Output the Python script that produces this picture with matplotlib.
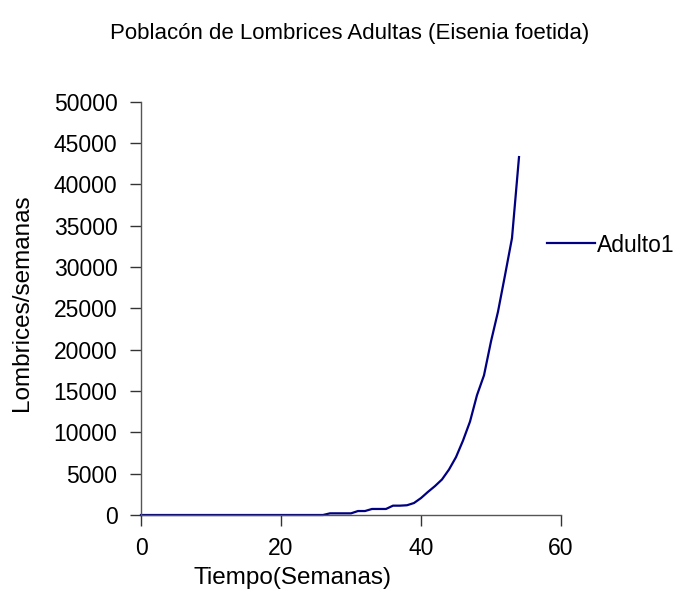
import matplotlib.pyplot as plt

plt.rcParams['font.family'] = ['Liberation Sans', 'DejaVu Sans']

# semanas 0..54
semanas = list(range(55))
adultos = [0] * 27 + [200, 200, 200, 200, 480, 480, 730, 730, 730, 1130,
                      1130, 1180, 1450, 2050, 2800, 3500, 4300, 5500, 7000,
                      9000, 11300, 14500, 16900, 21000, 24600, 29000, 33500,
                      43300]

fig = plt.figure(figsize=(6.84, 6.05), dpi=100)
ax = fig.add_axes([141 / 684, 1 - 515 / 605, 420 / 684, (515 - 101.7) / 605])

ax.plot(semanas, adultos, color='#000080', lw=1.6, label='Adulto1', clip_on=False)

ax.set_xlim(0, 60)
ax.set_ylim(0, 50000)
ax.set_xticks([0, 20, 40, 60])
ax.set_yticks(range(0, 50001, 5000))

for s in ['top', 'right']:
    ax.spines[s].set_visible(False)
for s in ['left', 'bottom']:
    ax.spines[s].set_color('#555555')
    ax.spines[s].set_linewidth(1.0)
ax.tick_params(direction='out', length=8, width=1, color='#333333',
               labelsize=16.5)
ax.tick_params(axis='y', pad=9)
ax.tick_params(axis='x', pad=8)

fig.text(350 / 684, 1 - 33 / 605, 'Poblacón de Lombrices Adultas (Eisenia foetida)',
         ha='center', va='center', fontsize=16)
fig.text(292 / 684, 1 - 578 / 605, 'Tiempo(Semanas)', ha='center', va='center',
         fontsize=17.5)
fig.text(22 / 684, 1 - 303 / 605, 'Lombrices/semanas', ha='center', va='center',
         rotation=90, fontsize=17.5)

fig.legend(loc='center left', bbox_to_anchor=(540 / 684, 1 - 245 / 605),
           frameon=False, fontsize=16.5, handlelength=2.1, handletextpad=0.1,
           borderaxespad=0, borderpad=0.3)

fig.savefig('out.png', dpi=100)
